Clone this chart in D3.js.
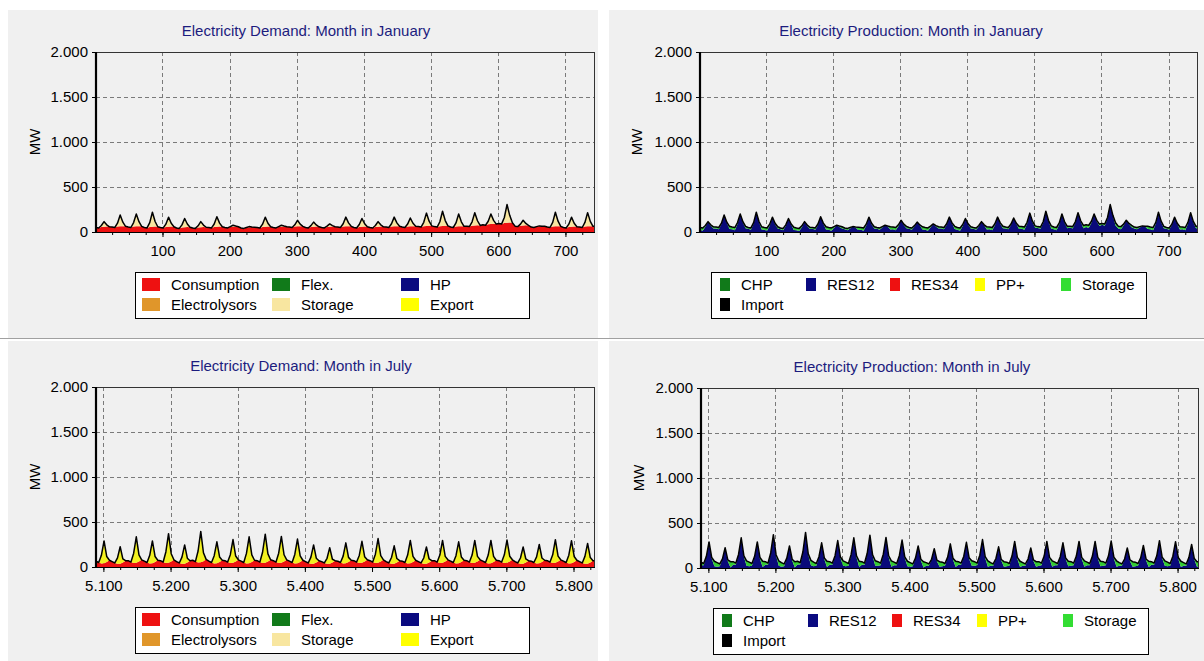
<!DOCTYPE html>
<html><head><meta charset="utf-8">
<script src="https://cdn.jsdelivr.net/npm/d3@7"></script>
<style>
body{margin:0;background:#fff;}
svg{display:block;font-family:"Liberation Sans",Arial,sans-serif;}
</style>
</head><body>
<svg id="c" width="1204" height="661"></svg>
<script>
// ---------- categories / ticks ----------
const hoursOfDay = [0, 4, 8, 12, 16, 20];
const hoursInMonth = 744;
const janStartHour = 1;
const julStartHour = 5089;
const janTicks = [100, 200, 300, 400, 500, 600, 700];
const janTickLabels = ["100", "200", "300", "400", "500", "600", "700"];
const julTicks = [5100, 5200, 5300, 5400, 5500, 5600, 5700, 5800];
const julTickLabels = ["5.100", "5.200", "5.300", "5.400", "5.500", "5.600", "5.700", "5.800"];
const yTicks = [0, 500, 1000, 1500, 2000];
const yTickLabels = ["0", "500", "1.000", "1.500", "2.000"];

// ---------- January demand (MW, samples at hours 0,4,8,12,16,20 of each day) ----------
const janConsumption = [
50,45,55,58,60,58, 55,50,60,63,65,63, 55,50,60,63,65,63, 50,45,55,58,60,58,
50,45,55,58,60,58, 45,40,50,53,55,53, 45,40,50,53,55,53, 50,45,55,58,60,58,
50,45,55,58,60,58, 45,40,50,53,55,53, 50,45,55,58,60,58, 50,45,55,58,60,58,
55,50,60,63,65,63, 50,45,55,58,60,58, 50,45,55,58,60,58, 55,50,60,63,65,63,
50,45,55,58,60,58, 50,45,55,58,60,58, 55,50,60,63,65,63, 55,50,60,63,65,63,
60,55,65,68,70,68, 60,55,65,68,70,68, 55,50,60,63,65,63, 65,60,70,73,75,73,
80,75,85,88,90,88, 95,90,100,103,105,103, 65,60,70,73,75,73, 55,50,60,63,65,63,
55,50,60,63,65,63, 50,45,55,58,60,58, 55,50,60,63,65,63];
const janStorageDemand = [
0,0,17,57,20,0, 0,0,38,127,44,0, 0,0,45,137,50,0, 0,0,49,162,57,0,
0,0,32,107,37,0, 0,0,29,97,34,0, 0,0,19,62,22,0, 0,0,34,112,39,0,
0,0,5,17,6,0, 0,0,0,7,0,0, 0,0,32,107,37,0, 0,0,5,17,6,0,
0,0,20,67,23,0, 0,0,16,52,18,0, 0,0,10,32,11,0, 0,0,31,102,36,0,
0,0,28,92,32,0, 0,0,17,57,20,0, 0,0,31,102,36,0, 0,0,28,92,32,0,
0,0,43,142,50,0, 0,0,49,162,57,0, 0,0,41,137,48,0, 0,0,43,142,50,0,
0,0,34,112,39,0, 0,0,61,202,80,0, 0,0,17,57,20,0, 0,0,0,5,0,0,
0,0,47,157,55,0, 0,0,32,107,37,0, 0,0,46,152,53,0];

// ---------- January production ----------
const janRES12 = [
25,15,57,115,70,38, 40,30,88,190,104,33, 30,20,90,200,105,43, 35,25,94,220,112,28,
25,15,72,165,87,38, 30,20,69,150,84,23, 20,10,54,115,67,33, 35,25,79,170,94,28,
25,15,45,75,56,38, 30,20,40,60,50,23, 25,15,72,165,87,38, 35,25,50,75,61,28,
30,20,65,130,78,43, 35,25,61,110,73,28, 25,15,50,90,61,38, 40,30,81,165,96,33,
25,15,68,150,82,38, 35,25,62,115,75,28, 30,20,76,165,91,43, 40,30,78,155,92,33,
35,25,93,210,110,48, 45,35,104,230,122,38, 30,20,86,200,103,43, 50,40,103,215,120,43,
55,45,104,200,119,68, 80,70,151,305,180,73, 40,30,72,130,85,53, 40,30,50,68,60,33,
30,20,92,220,110,43, 35,25,77,165,92,28, 30,20,91,215,108,43];
const janStorageProd = [
25,30,15,0,10,20, 15,20,10,0,5,30, 25,30,15,0,10,20, 15,20,10,0,5,30,
25,30,15,0,10,20, 15,20,10,0,5,30, 25,30,15,0,10,20, 15,20,10,0,5,30,
25,30,15,0,10,20, 15,20,10,0,5,30, 25,30,15,0,10,20, 15,20,10,0,5,30,
25,30,15,0,10,20, 15,20,10,0,5,30, 25,30,15,0,10,20, 15,20,10,0,5,30,
25,30,15,0,10,20, 15,20,10,0,5,30, 25,30,15,0,10,20, 15,20,10,0,5,30,
25,30,15,0,10,20, 15,20,10,0,5,30, 25,30,15,0,10,20, 15,20,10,0,5,30,
25,30,15,0,10,20, 15,20,10,0,5,30, 25,30,15,0,10,20, 15,20,10,0,5,30,
25,30,15,0,10,20, 15,20,10,0,5,30, 25,30,15,0,10,20];

// ---------- July demand ----------
const julConsumption = [
65,50,40,42,55,75, 60,45,35,37,50,70, 70,55,45,47,60,80, 65,50,40,42,55,75,
70,55,45,47,60,80, 60,45,35,37,50,70, 75,60,50,52,65,85, 65,50,40,42,55,75,
70,55,45,47,60,80, 65,50,40,42,55,75, 70,55,45,47,60,80, 70,55,45,47,60,80,
65,50,40,42,55,75, 60,45,35,37,50,70, 60,45,35,37,50,70, 65,50,40,42,55,75,
70,55,45,47,60,80, 70,55,45,47,60,80, 60,45,35,37,50,70, 65,50,40,42,55,75,
60,45,35,37,50,70, 70,55,45,47,60,80, 65,50,40,42,55,75, 70,55,45,47,60,80,
65,50,40,42,55,75, 70,55,45,47,60,80, 60,45,35,37,50,70, 65,50,40,42,55,75,
70,55,45,47,60,80, 65,50,40,42,55,75, 60,45,35,37,50,70];
const julExport = [
0,0,90,248,61,0, 0,0,66,188,40,0, 0,0,106,288,74,0, 0,0,90,248,61,0,
0,0,122,323,88,0, 0,0,75,208,48,0, 0,0,128,343,93,0, 0,0,86,238,57,0,
0,0,92,258,62,0, 0,0,111,293,79,0, 0,0,119,318,86,0, 0,0,108,293,76,0,
0,0,100,268,69,0, 0,0,75,208,48,0, 0,0,62,178,36,0, 0,0,81,226,52,0,
0,0,83,238,54,0, 0,0,97,269,66,0, 0,0,71,198,44,0, 0,0,93,253,63,0,
0,0,65,185,39,0, 0,0,88,248,58,0, 0,0,86,238,57,0, 0,0,88,248,58,0,
0,0,93,253,63,0, 0,0,90,253,60,0, 0,0,65,185,39,0, 0,0,73,208,45,0,
0,0,91,256,61,0, 0,0,91,250,62,0, 0,0,83,225,55,0];

// ---------- July production ----------
const julRES12 = [
30,30,130,290,106,20, 15,20,101,225,75,5, 35,35,151,335,124,25, 20,25,130,290,101,10,
35,35,167,370,138,25, 15,20,110,245,83,5, 40,40,178,395,148,30, 20,25,126,280,97,10,
35,35,137,305,112,25, 20,25,151,335,119,10, 35,35,164,365,136,25, 25,30,153,340,121,15,
30,30,140,310,114,20, 15,20,110,245,83,5, 25,25,97,215,76,15, 20,25,121,268,92,10,
35,35,128,285,104,25, 25,30,142,316,111,15, 25,25,106,235,84,15, 20,25,133,295,103,10,
25,25,100,222,79,15, 25,30,133,295,103,15, 30,30,126,280,102,20, 25,30,133,295,103,15,
30,30,133,295,108,20, 25,30,135,300,105,15, 25,25,100,222,79,15, 20,25,113,250,85,10,
35,35,136,303,111,25, 20,25,131,292,102,10, 25,25,118,262,95,15];
const julStorageProd = [
35,20,0,0,10,55, 45,25,0,0,15,65, 35,20,0,0,10,55, 45,25,0,0,15,65,
35,20,0,0,10,55, 45,25,0,0,15,65, 35,20,0,0,10,55, 45,25,0,0,15,65,
35,20,0,0,10,55, 45,25,0,0,15,65, 35,20,0,0,10,55, 45,25,0,0,15,65,
35,20,0,0,10,55, 45,25,0,0,15,65, 35,20,0,0,10,55, 45,25,0,0,15,65,
35,20,0,0,10,55, 45,25,0,0,15,65, 35,20,0,0,10,55, 45,25,0,0,15,65,
35,20,0,0,10,55, 45,25,0,0,15,65, 35,20,0,0,10,55, 45,25,0,0,15,65,
35,20,0,0,10,55, 45,25,0,0,15,65, 35,20,0,0,10,55, 45,25,0,0,15,65,
35,20,0,0,10,55, 45,25,0,0,15,65, 35,20,0,0,10,55];

// ---------- legends ----------
const demandLegendNames = ["Consumption", "Flex.", "HP", "Electrolysors", "Storage", "Export"];
const demandLegendColors = ["#ee1111", "#117a1a", "#0a0a80", "#e0962a", "#f8e6a0", "#ffff00"];
const productionLegendNames = ["CHP", "RES12", "RES34", "PP+", "Storage", "Import"];
const productionLegendColors = ["#117a1a", "#0a0a80", "#ee1111", "#ffff00", "#33dd33", "#000000"];

// ---------- drawing ----------
const svg = d3.select("#c");
svg.append("rect").attr("width", 1204).attr("height", 661).attr("fill", "#fff");

function buildRows(start, series) {
  const rows = [];
  const nDays = series[0].values.length / hoursOfDay.length;
  for (let d = 0; d < nDays; d++) {
    hoursOfDay.forEach((h, k) => {
      const row = { hour: start + d * 24 + h };
      series.forEach(s => { row[s.key] = s.values[d * hoursOfDay.length + k]; });
      rows.push(row);
    });
  }
  const last = Object.assign({}, rows[rows.length - 1]);
  last.hour = start + hoursInMonth - 1;
  rows.push(last);
  return rows;
}

function drawPanel(p, idx) {
  svg.append("rect").attr("x", p.px).attr("y", p.py).attr("width", p.pw).attr("height", p.ph).attr("fill", "#f0f0f0");
  const x = d3.scaleLinear().domain([p.start, p.start + hoursInMonth - 1]).range([p.x0, p.x1]);
  const y = d3.scaleLinear().domain([0, 2000]).range([p.yBot, p.yTop]);
  const g = svg.append("g");

  svg.append("text").attr("x", p.titleX).attr("y", p.titleY).attr("text-anchor", "middle")
    .attr("font-size", 15).attr("fill", "#1c1c7e").text(p.title);
  svg.append("text").attr("transform", `translate(${p.mwX},${(p.yTop + p.yBot) / 2}) rotate(-90)`)
    .attr("text-anchor", "middle").attr("dy", "0.35em").attr("font-size", 15).attr("fill", "#000").text("MW");

  g.selectAll(".vg").data(p.ticks).join("line").attr("class", "vg")
    .attr("x1", d => Math.round(x(d)) + 0.5).attr("x2", d => Math.round(x(d)) + 0.5)
    .attr("y1", p.yTop).attr("y2", p.yBot)
    .attr("stroke", "#7a7a7a").attr("stroke-dasharray", "4,3");
  g.selectAll(".hg").data(yTicks.filter(v => v > 0 && v < 2000)).join("line").attr("class", "hg")
    .attr("x1", p.x0).attr("x2", p.x1)
    .attr("y1", d => Math.round(y(d)) + 0.5).attr("y2", d => Math.round(y(d)) + 0.5)
    .attr("stroke", "#7a7a7a").attr("stroke-dasharray", "4,3");

  const clipId = "clip" + idx;
  svg.append("clipPath").attr("id", clipId).append("rect")
    .attr("x", p.x0).attr("y", p.yTop).attr("width", p.x1 - p.x0).attr("height", p.yBot - p.yTop);
  const dg = svg.append("g").attr("clip-path", `url(#${clipId})`);
  const rows = buildRows(p.start, p.series);
  const keys = p.series.map(s => s.key);
  const stacked = d3.stack().keys(keys)(rows);
  const area = d3.area().x(d => x(d.data.hour)).y0(d => y(d[0])).y1(d => y(d[1]));
  dg.selectAll(".ar").data(stacked).join("path").attr("class", "ar")
    .attr("d", area).attr("fill", (d, i) => p.series[i].color);
  const line = d3.line().x(d => x(d.hour)).y(d => y(d3.sum(keys, k => d[k])));
  dg.append("path").datum(rows).attr("d", line).attr("fill", "none")
    .attr("stroke", "#000").attr("stroke-width", 1.5).attr("stroke-linejoin", "round");

  svg.append("rect").attr("x", p.x0 + 0.5).attr("y", p.yTop + 0.5).attr("width", p.x1 - p.x0 - 1)
    .attr("height", p.yBot - p.yTop).attr("fill", "none").attr("stroke", "#333");
  svg.append("line").attr("x1", p.x0).attr("x2", p.x1).attr("y1", p.yBot + 0.5).attr("y2", p.yBot + 0.5)
    .attr("stroke", "#000");
  svg.append("line").attr("x1", p.x0).attr("x2", p.x0).attr("y1", p.yTop).attr("y2", p.yBot + 1)
    .attr("stroke", "#000").attr("stroke-width", 2.2);

  const xa = d3.axisBottom(x).tickValues(p.ticks)
    .tickFormat(d => p.tickLabels[p.ticks.indexOf(d)]).tickSize(5).tickPadding(8);
  const xg = svg.append("g").attr("transform", `translate(0,${p.yBot})`).call(xa);
  const xm = d3.axisBottom(x).tickValues(p.minor).tickFormat("").tickSize(3);
  const xmg = svg.append("g").attr("transform", `translate(0,${p.yBot})`).call(xm);
  const ya = d3.axisLeft(y).tickValues(yTicks)
    .tickFormat(d => yTickLabels[yTicks.indexOf(d)]).tickSize(4).tickPadding(4);
  const yg = svg.append("g").attr("transform", `translate(${p.x0},0)`).call(ya);
  [xg, xmg, yg].forEach(a => {
    a.select(".domain").remove();
    a.attr("font-family", "'Liberation Sans', Arial, sans-serif").attr("font-size", 15);
    a.selectAll("line").attr("stroke", "#000");
    a.selectAll("text").attr("fill", "#000");
  });

  const L = p.legend;
  svg.append("rect").attr("x", L.x + 0.5).attr("y", L.y + 0.5).attr("width", L.w).attr("height", L.h)
    .attr("fill", "#fff").attr("stroke", "#000");
  const lg = svg.append("g");
  const items = L.names.map((n, i) => ({ n, c: L.colors[i], col: i % L.cols.length, row: Math.floor(i / L.cols.length) }));
  lg.selectAll("rect").data(items).join("rect")
    .attr("x", d => L.x + L.cols[d.col]).attr("y", d => L.y + 6 + d.row * 20)
    .attr("width", L.swW).attr("height", 13).attr("fill", d => d.c);
  lg.selectAll("text").data(items).join("text")
    .attr("x", d => L.x + L.cols[d.col] + L.textOff).attr("y", d => L.y + 17.5 + d.row * 20)
    .attr("font-size", 15).attr("fill", "#000").text(d => d.n);
}

const demandLegend = (x, y) => ({ x, y, w: 394, h: 46, names: demandLegendNames, colors: demandLegendColors,
  cols: [7, 137, 266], swW: 18, textOff: 29 });
const productionLegend = (x, y) => ({ x, y, w: 435, h: 46, names: productionLegendNames, colors: productionLegendColors,
  cols: [9, 95, 179, 264, 350], swW: 10, textOff: 21 });

const panels = [
  { px: 8, py: 10, pw: 590, ph: 328, x0: 96, x1: 595, yTop: 52, yBot: 232, start: janStartHour,
    title: "Electricity Demand: Month in January", titleX: 306, titleY: 36, mwX: 35,
    ticks: janTicks, tickLabels: janTickLabels, minor: d3.range(25, 744, 25),
    series: [{ key: "Consumption", values: janConsumption, color: "#ee1111" },
             { key: "Storage", values: janStorageDemand, color: "#f8e6a0" }],
    legend: demandLegend(135, 272) },
  { px: 609, py: 10, pw: 595, ph: 328, x0: 700, x1: 1198, yTop: 52, yBot: 232, start: janStartHour,
    title: "Electricity Production: Month in January", titleX: 911, titleY: 36, mwX: 637,
    ticks: janTicks, tickLabels: janTickLabels, minor: d3.range(25, 744, 25),
    series: [{ key: "RES12", values: janRES12, color: "#0a0a7a" },
             { key: "Storage", values: janStorageProd, color: "#33cc33" }],
    legend: productionLegend(711, 272) },
  { px: 8, py: 341, pw: 590, ph: 320, x0: 96, x1: 595, yTop: 387, yBot: 567, start: julStartHour,
    title: "Electricity Demand: Month in July", titleX: 301, titleY: 371, mwX: 35,
    ticks: julTicks, tickLabels: julTickLabels, minor: d3.range(5100, 5833, 25),
    series: [{ key: "Consumption", values: julConsumption, color: "#ee1111" },
             { key: "Export", values: julExport, color: "#f2f020" }],
    legend: demandLegend(135, 607) },
  { px: 609, py: 341, pw: 595, ph: 320, x0: 701, x1: 1199, yTop: 388, yBot: 568, start: julStartHour,
    title: "Electricity Production: Month in July", titleX: 912, titleY: 372, mwX: 639,
    ticks: julTicks, tickLabels: julTickLabels, minor: d3.range(5100, 5833, 25),
    series: [{ key: "RES12", values: julRES12, color: "#0a0a7a" },
             { key: "Storage", values: julStorageProd, color: "#33cc33" }],
    legend: productionLegend(713, 608) }
];

panels.forEach(drawPanel);

svg.append("line").attr("x1", 0).attr("x2", 1204).attr("y1", 338.5).attr("y2", 338.5).attr("stroke", "#a0a0a0");
</script>
</body></html>
